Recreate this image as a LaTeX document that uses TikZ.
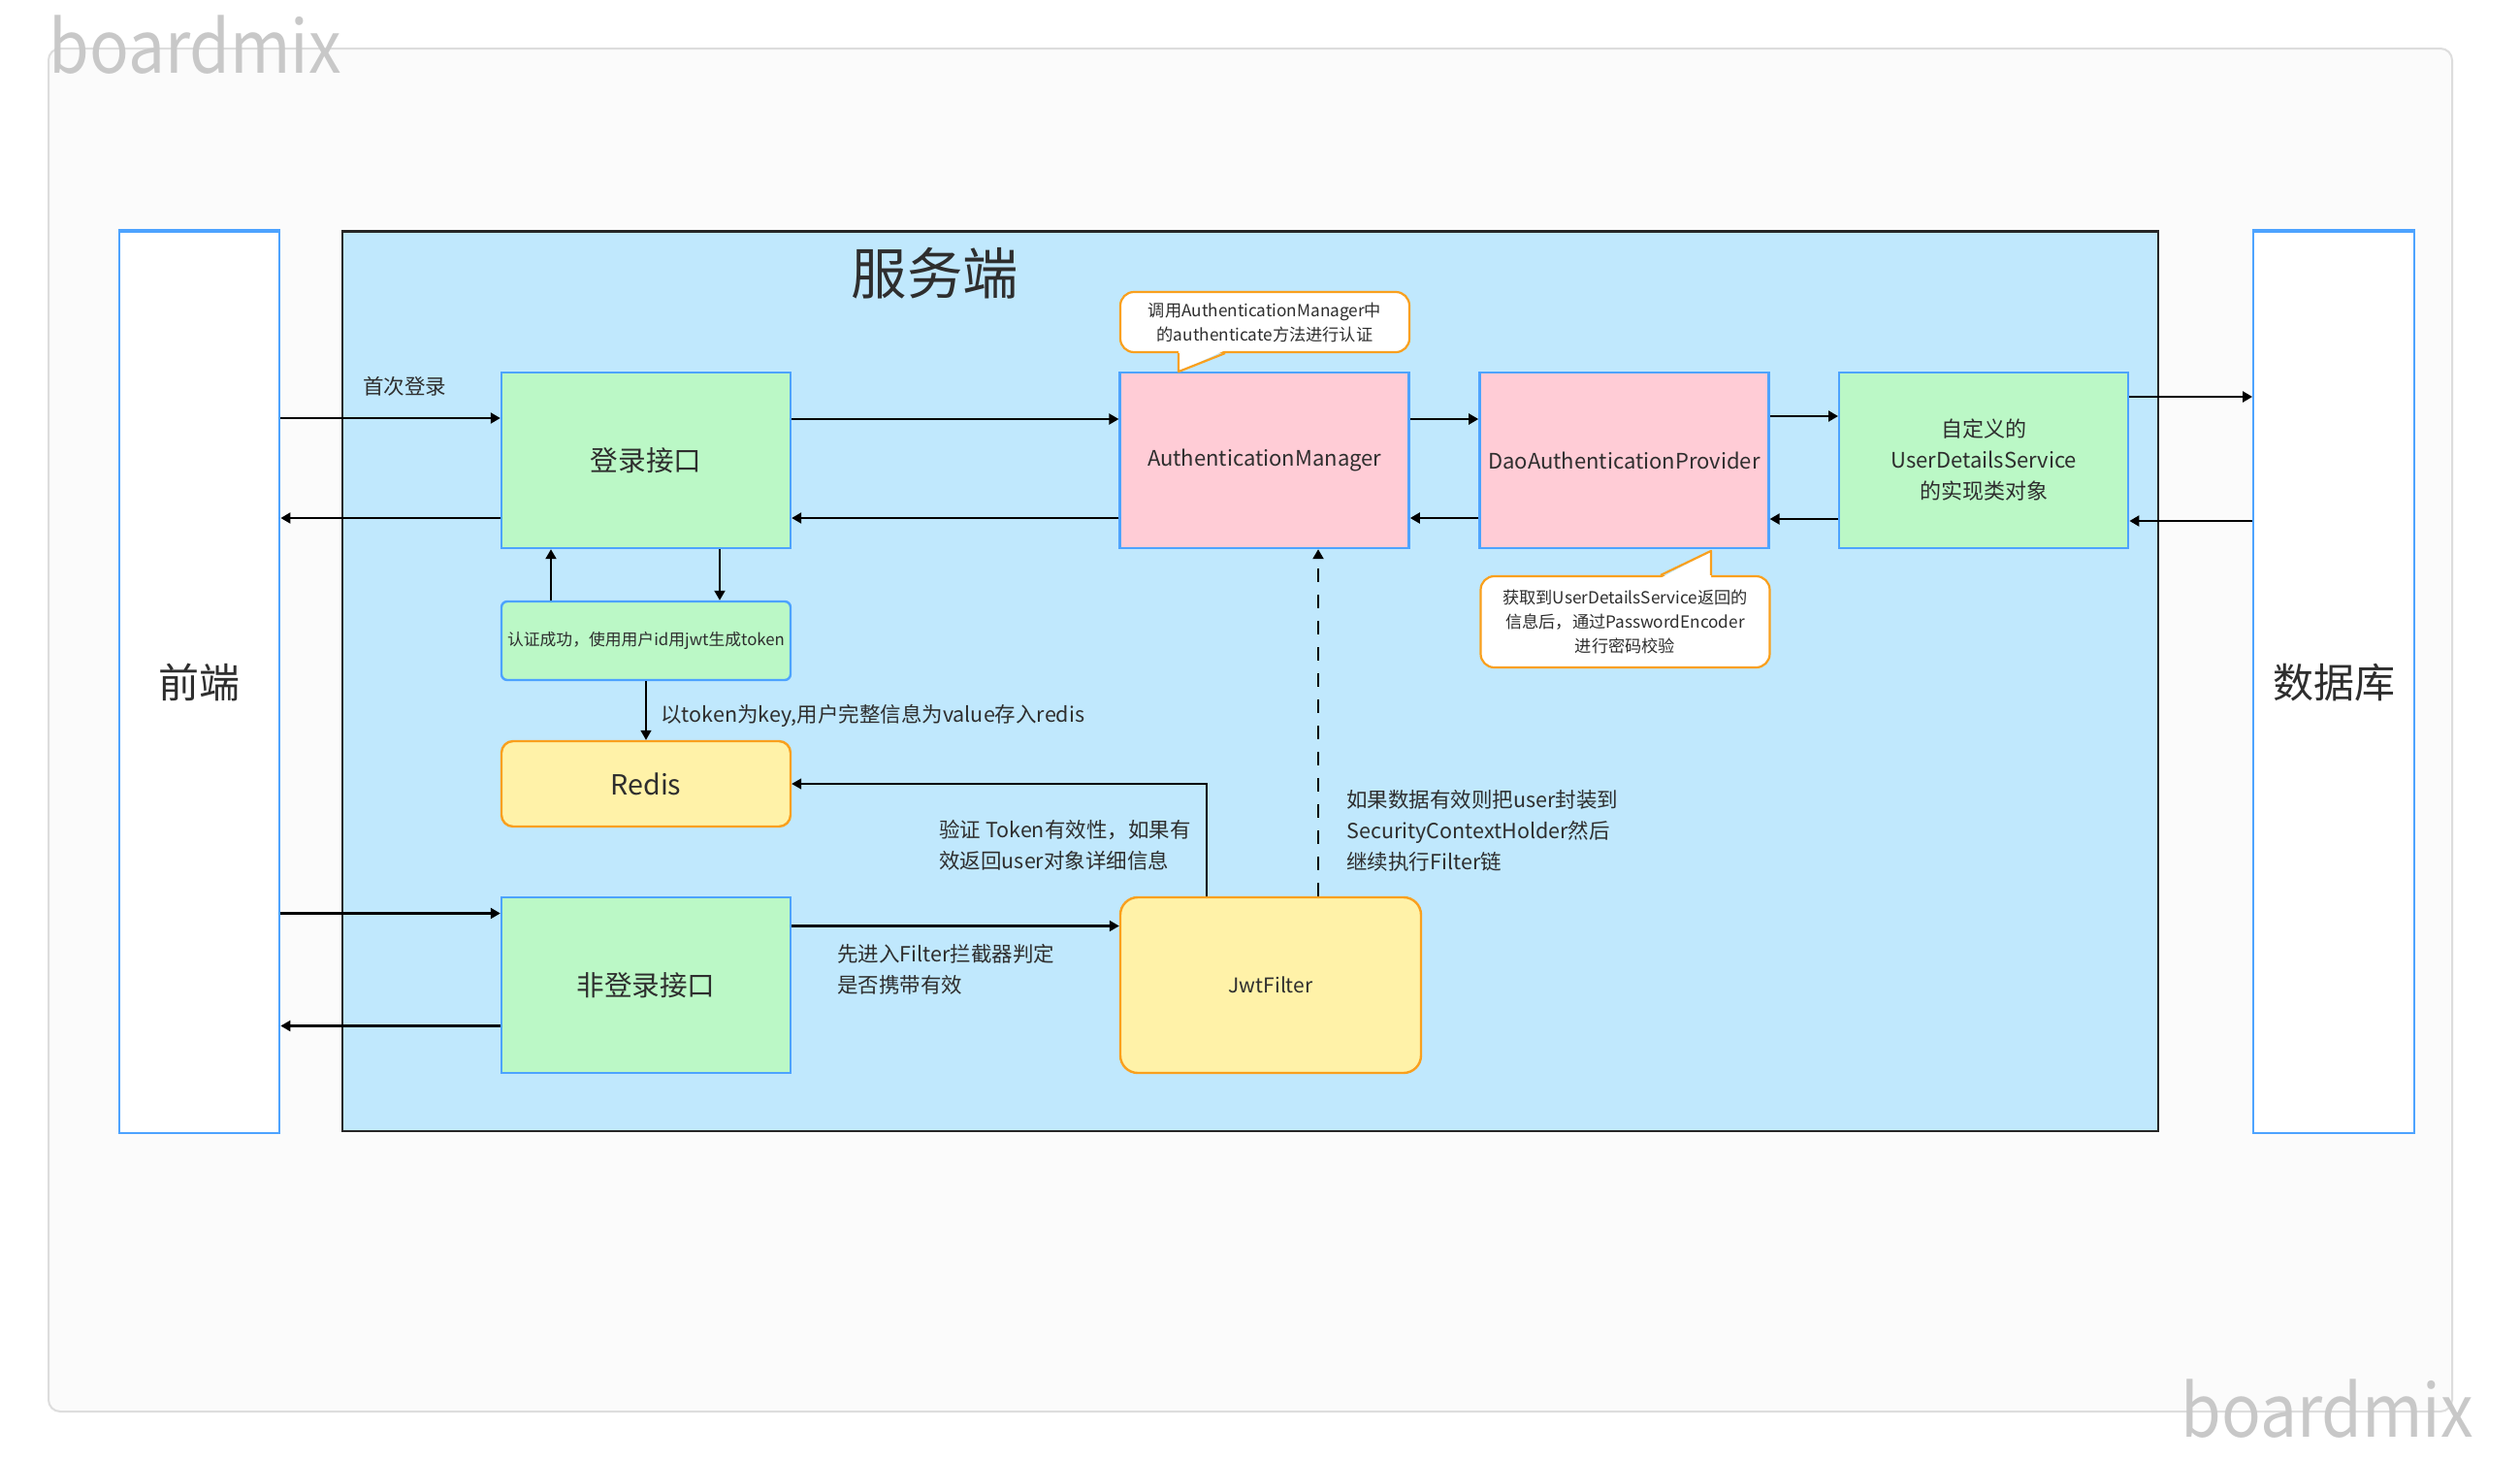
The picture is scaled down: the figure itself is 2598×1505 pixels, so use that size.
\documentclass[tikz,border=0pt]{standalone}
\usepackage{fontspec}
\setmainfont{Noto Sans CJK SC}
\usepackage{tikz}
\usetikzlibrary{arrows.meta,positioning}
\definecolor{srvc}{RGB}{192,232,253}
\definecolor{greenc}{RGB}{187,248,198}
\definecolor{bluec}{RGB}{77,163,255}
\definecolor{pinkc}{RGB}{255,204,214}
\definecolor{yelc}{RGB}{255,242,168}
\definecolor{orc}{RGB}{249,160,30}
\definecolor{wmc}{RGB}{200,200,200}
\definecolor{panelc}{RGB}{251,251,251}
\definecolor{edgec}{RGB}{221,221,221}
\newcommand{\fsz}[2]{\fontsize{#1pt}{#2pt}\selectfont}

\begin{document}
\begin{tikzpicture}[x=0.5pt, y=-0.5pt, every node/.style={font=\fsz{10.75}{16}, text=black!82},
  box/.style={draw=bluec, line width=1.2pt, minimum width=149pt, minimum height=90.5pt, align=center, inner sep=2pt},
  gbox/.style={box, fill=greenc}, pbox/.style={box, fill=pinkc},
  ybox/.style={box, draw=orc, fill=yelc, rounded corners=6pt},
  endbox/.style={draw=bluec, line width=1pt, fill=white, minimum width=82.9pt, minimum height=464.7pt, font=\fsz{21}{24}},
  notebox/.style={draw=orc, line width=1.1pt, fill=white, rounded corners=7pt, align=center, minimum width=149pt, inner sep=1pt, font=\fsz{8.6}{12.5}},
  notetail/.style={draw=orc, line width=1.1pt, line join=round},
  wm/.style={font=\fsz{37.5}{40}, text=wmc, inner sep=0pt, anchor=base west},
  lbl/.style={anchor=west, align=left, inner sep=0pt},
  arr/.style={-{Triangle[length=5pt,width=5.5pt]}, line width=1.1pt},
  thinarr/.style={arr, line width=0.7pt}]
  % canvas and panel
  \fill[white] (0,0) rectangle (2598,1505);
  \draw[edgec, fill=panelc, line width=1pt, rounded corners=6pt] (50,50) rectangle (2528,1455);
  \node[wm] (wmtop) at (50,75) {\scalebox{0.9}[1]{boardmix}};
  \node[wm] (wmbot) at (2248,1481) {\scalebox{0.9}[1]{boardmix}};
  % server area
  \node[draw=black!85, line width=1.2pt, fill=srvc, minimum width=936pt, minimum height=463.7pt] (server) at (1289,702.3) {};
  \node[font=\fsz{28.7}{32}] (srvtitle) at (964,282) {服务端};
  % client and database
  \node[endbox] (front) at (205.5,703.3) {前端};
  \node[endbox] (db) at (2406,703.3) {数据库};
  \draw[bluec, line width=2pt] (front.north west) -- (front.north east);
  \draw[bluec, line width=2pt] (db.north west) -- (db.north east);
  % boxes
  \node[gbox, font=\fsz{14.3}{17}] (login) at (666,474.5) {登录接口};
  \node[pbox, right=168.6pt of login, font=\fsz{11}{16}] (am) {AuthenticationManager};
  \node[pbox, right=35.2pt of am, font=\fsz{11}{16}] (dap) {DaoAuthenticationProvider};
  \node[gbox, right=35.2pt of dap, font=\fsz{11}{16}] (uds) {自定义的\\UserDetailsService\\的实现类对象};
  \node[gbox, below=26.3pt of login, minimum height=40.5pt, rounded corners=3pt, font=\fsz{8.4}{10}] (token) {认证成功，使用用户id用jwt生成token};
  \node[ybox, below=30.3pt of token, minimum height=44pt, font=\fsz{14.3}{17}] (redis) {Redis};
  \node[gbox, below=35.3pt of redis, font=\fsz{14.3}{17}] (other) {非登录接口};
  \node[ybox, right=168.8pt of other, minimum width=155pt, rounded corners=9pt, font=\fsz{10.5}{16}] (jwt) {JwtFilter};
  % callouts
  \node[notebox, minimum height=31pt] (noteam) at (1304,332) {调用AuthenticationManager中\\的authenticate方法进行认证};
  \fill[white] ([xshift=-44.5pt,yshift=1.5pt]noteam.south) -- ([xshift=-44.5pt,yshift=-9.5pt]noteam.south) -- ([xshift=-20.5pt,yshift=1.5pt]noteam.south) -- cycle;
  \draw[notetail] ([xshift=-44.5pt]noteam.south) -- ([xshift=-44.5pt,yshift=-9.5pt]noteam.south) -- ([xshift=-20.5pt]noteam.south);
  \node[notebox, minimum height=47pt] (notedap) at (1675.5,641) {获取到UserDetailsService返回的\\信息后，通过PasswordEncoder\\进行密码校验};
  \fill[white] ([xshift=44.25pt,yshift=-1.5pt]notedap.north) -- ([xshift=44.25pt,yshift=12.5pt]notedap.north) -- ([xshift=18.25pt,yshift=-1.5pt]notedap.north) -- cycle;
  \draw[notetail] ([xshift=44.25pt]notedap.north) -- ([xshift=44.25pt,yshift=12.5pt]notedap.north) -- ([xshift=18.25pt]notedap.north);
  % front <-> login
  \draw[arr] ([yshift=21.75pt]login.west -| front.east) -- ([yshift=21.75pt]login.west);
  \draw[arr] ([yshift=-29.75pt]login.west) -- ([yshift=-29.75pt]login.west -| front.east);
  \node[lbl] (firstlbl) at (374,398) {首次登录};
  % login chain
  \draw[arr] ([yshift=21.25pt]login.east) -- ([yshift=21.25pt]am.west);
  \draw[arr] ([yshift=-29.75pt]am.west) -- ([yshift=-29.75pt]login.east);
  \draw[arr] ([yshift=21.25pt]am.east) -- ([yshift=21.25pt]dap.west);
  \draw[arr] ([yshift=-29.75pt]dap.west) -- ([yshift=-29.75pt]am.east);
  \draw[arr] ([yshift=22.75pt]dap.east) -- ([yshift=22.75pt]uds.west);
  \draw[arr] ([yshift=-30.25pt]uds.west) -- ([yshift=-30.25pt]dap.east);
  \draw[arr] ([yshift=32.75pt]uds.east) -- ([yshift=32.75pt]uds.east -| db.west);
  \draw[arr] ([yshift=-31.25pt]uds.east -| db.west) -- ([yshift=-31.25pt]uds.east);
  % token and redis
  \draw[arr, line width=1pt] ([xshift=-49pt]token.north) -- ([xshift=-49pt]login.south);
  \draw[arr, line width=1pt] ([xshift=38pt]login.south) -- ([xshift=38pt]token.north);
  \draw[thinarr] (token) -- (redis);
  \node[lbl] (storelbl) at (681,738) {以token为key,用户完整信息为value存入redis};
  \draw[thinarr] ([xshift=-33pt]jwt.north) |- (redis.east);
  \node[lbl] (checklbl) at (968,871) {验证 Token有效性，如果有\\效返回user对象详细信息};
  \draw[arr, dash pattern=on 7pt off 6.5pt] ([xshift=24.5pt]jwt.north) -- ([xshift=24.5pt]jwt.north |- am.south);
  \node[lbl] (validlbl) at (1388,856) {如果数据有效则把user封装到\\SecurityContextHolder然后\\继续执行Filter链};
  % front <-> other
  \draw[arr] ([yshift=37pt]other.west -| front.east) -- ([yshift=37pt]other.west);
  \draw[arr] ([yshift=-21pt]other.west) -- ([yshift=-21pt]other.west -| front.east);
  \draw[arr] ([yshift=30.5pt]other.east) -- ([yshift=30.5pt]jwt.west);
  \node[lbl] (filterlbl) at (863,999) {先进入Filter拦截器判定\\是否携带有效};
\end{tikzpicture}
\end{document}
